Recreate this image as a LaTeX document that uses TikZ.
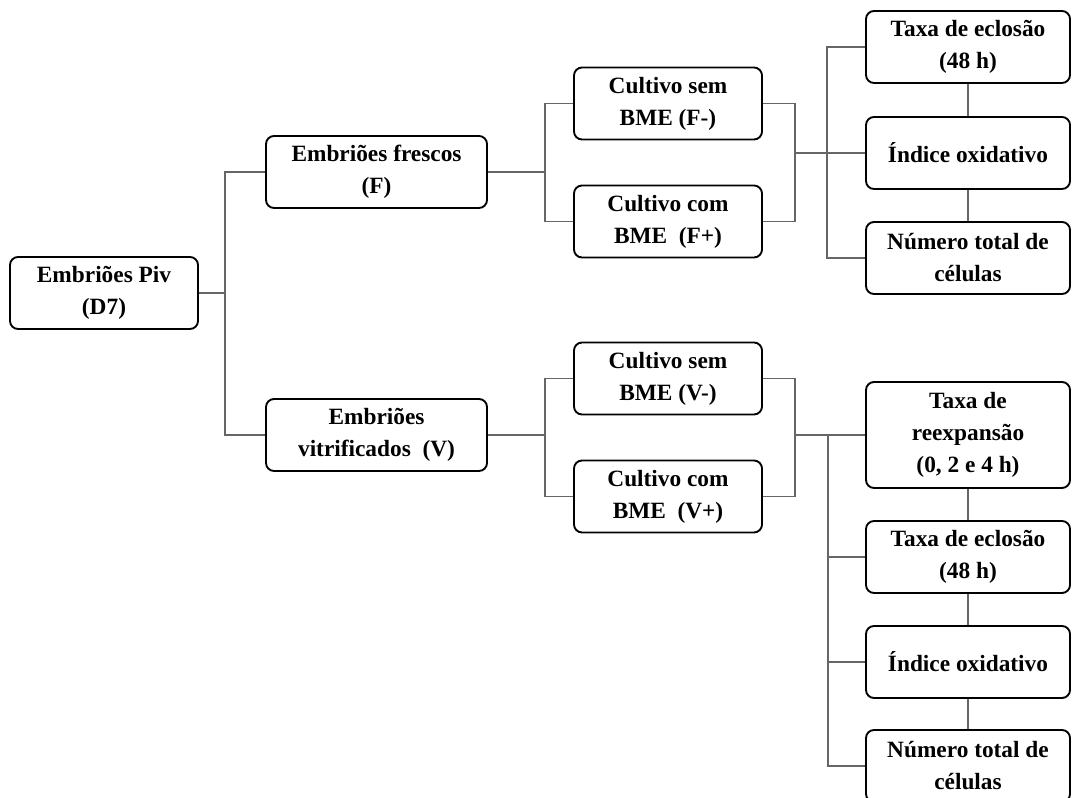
\documentclass[tikz,border=0pt]{standalone}
\usepackage{fontspec}
\setmainfont{Liberation Serif}

\begin{document}
\begin{tikzpicture}[x=0.75pt,y=-0.75pt,
    caixa/.style={draw=black,line width=1.4pt,rounded corners=6pt,align=center,
      inner sep=0pt,minimum height=54pt,font=\bfseries\fontsize{17.5}{24}\selectfont},
    curta/.style={caixa,minimum width=141pt},
    larga/.style={caixa,minimum width=165.75pt},
    fim/.style={caixa,minimum width=153pt},
    ligacao/.style={draw=black!60,line width=0.9pt}]
  \clip (0,0) rectangle (1072,798);
  \node[curta] (piv) at (104,293) {Embriões Piv\\(D7)};
  \node[larga] (fres) at (376.5,172) {Embriões frescos\\(F)};
  \node[larga] (vitr) at (376.5,435) {Embriões\\vitrificados\ \ (V)};
  \node[curta] (fm) at (668,103.5) {Cultivo sem\\BME (F-)};
  \node[curta] (fp) at (668,221.5) {Cultivo com\\BME\ \ (F+)};
  \node[curta] (vm) at (668,378.5) {Cultivo sem\\BME (V-)};
  \node[curta] (vp) at (668,496.5) {Cultivo com\\BME\ \ (V+)};
  \node[fim] (eclF) at (968,47) {Taxa de eclosão\\(48 h)};
  \node[fim] (indF) at (968,153) {Índice oxidativo};
  \node[fim] (numF) at (968,258) {Número total de\\células};
  \node[fim,minimum height=79.5pt] (reexp) at (968,435) {Taxa de\\reexpansão\\(0, 2 e 4 h)};
  \node[fim] (eclV) at (968,557) {Taxa de eclosão\\(48 h)};
  \node[fim] (indV) at (968,662) {Índice oxidativo};
  \node[fim] (numV) at (968,766) {Número total de\\células};

  \coordinate (jp) at (225,293);
  \coordinate (jf) at (545,172);
  \coordinate (jfd) at (795,153);
  \coordinate (jfr) at (827,153);
  \coordinate (jv) at (545,435);
  \coordinate (jvd) at (795,435);
  \coordinate (jvr) at (828,435);

  \draw[ligacao] (piv.east) -- (jp);
  \draw[ligacao] (fres.west) -| (jp) |- (vitr.west);
  \draw[ligacao] (fres.east) -- (jf);
  \draw[ligacao] (fm.west) -| (jf) |- (fp.west);
  \draw[ligacao] (fm.east) -| (jfd) |- (fp.east);
  \draw[ligacao] (jfd) -- (indF.west);
  \draw[ligacao] (eclF.west) -| (jfr) |- (numF.west);
  \draw[ligacao] (vitr.east) -- (jv);
  \draw[ligacao] (vm.west) -| (jv) |- (vp.west);
  \draw[ligacao] (vm.east) -| (jvd) |- (vp.east);
  \draw[ligacao] (jvd) -- (reexp.west);
  \draw[ligacao] (jvr) |- (eclV.west);
  \draw[ligacao] (jvr) |- (indV.west);
  \draw[ligacao] (jvr) |- (numV.west);
  \foreach \a/\b in {eclF/indF, indF/numF, reexp/eclV, eclV/indV, indV/numV}
    \draw[ligacao] (\a.south) -- (\b.north);
\end{tikzpicture}
\end{document}
